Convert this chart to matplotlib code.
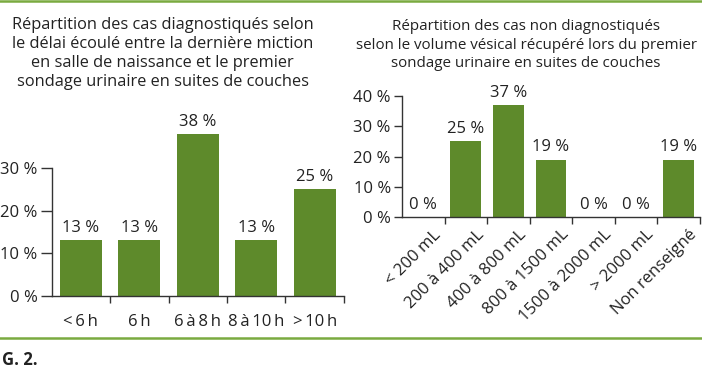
import matplotlib
matplotlib.use("Agg")
import matplotlib.pyplot as plt
import matplotlib.transforms as mtransforms
import numpy as np

plt.rcParams['font.family'] = ['Open Sans', 'DejaVu Sans']

# donnees
cat_gauche = ["<\u20096\u2009h", "6\u2009h", "6\u2009à\u20098\u2009h",
              "8\u2009à\u200910\u2009h", ">\u200910\u2009h"]
val_gauche = [13, 13, 38, 13, 25]
titre_gauche = ("Répartition des cas diagnostiqués selon\n"
                "le délai écoulé entre la dernière miction\n"
                "en salle de naissance et le premier\n"
                "sondage urinaire en suites de couches")

cat_droite = ["< 200 mL", "200 à 400 mL", "400 à 800 mL", "800 à 1500 mL",
              "1500 à 2000 mL", "> 2000 mL", "Non renseigné"]
val_droite = [0, 25, 37, 19, 0, 0, 19]
titre_droite = ("Répartition des cas non diagnostiqués\n"
                "selon le volume vésical récupéré lors du premier\n"
                "sondage urinaire en suites de couches")

vert = "#5e8a2b"
trait = "#7aaa40"
gris = "#333333"
txt = "#222222"
fs = 12

fig = plt.figure(figsize=(7.02, 3.70), dpi=100)

def panneau(ax, cats, vals, yticks, ylen):
    x = np.arange(len(cats))
    ax.bar(x, vals, width=0.72, color=vert)
    for xi, v in zip(x, vals):
        ax.annotate("%d %%" % v, (xi, v), xytext=(0, 3), textcoords="offset points",
                    ha="center", va="bottom", fontsize=fs, color=txt)
    ax.set_xlim(-0.5, len(cats) - 0.5)
    ax.set_ylim(0, 40)
    ax.set_yticks(yticks)
    ax.set_yticklabels(["%d %%" % t for t in yticks], fontsize=fs, color=txt)
    ax.spines['top'].set_visible(False)
    ax.spines['right'].set_visible(False)
    ax.spines['left'].set_bounds(0, yticks[-1])
    for s in ['left', 'bottom']:
        ax.spines[s].set_color(gris)
        ax.spines[s].set_linewidth(1.0)
    ax.tick_params(axis='y', length=ylen, width=1.0, color=gris, pad=2)
    # traits entre categories, libelles au centre
    ax.set_xticks(np.arange(len(cats)) + 0.5)
    ax.set_xticklabels([])
    ax.tick_params(axis='x', which='major', length=5, width=1.0, color=gris)
    ax.set_xticks(x, minor=True)
    ax.tick_params(axis='x', which='minor', length=0)
    return x

ax1 = fig.add_axes([0.0734, 0.2, 0.4166, 0.4616])
x1 = panneau(ax1, cat_gauche, val_gauche, [0, 10, 20, 30], 8)
ax1.set_xticklabels(cat_gauche, minor=True, fontsize=fs, color=txt)
ax1.tick_params(axis='x', which='minor', pad=13)

ax2 = fig.add_axes([0.5726, 0.4135, 0.4244, 0.327])
x2 = panneau(ax2, cat_droite, val_droite, [0, 10, 20, 30, 40], 6)
ax2.set_xticklabels(cat_droite, minor=True, fontsize=fs, color=txt,
                    rotation=45, ha="right", rotation_mode="anchor")
ax2.tick_params(axis='x', which='minor', pad=7)
decal = mtransforms.ScaledTranslation(10 / 100, 0, fig.dpi_scale_trans)
for lab in ax2.get_xticklabels(minor=True):
    lab.set_transform(lab.get_transform() + decal)

fig.text(0.232, 0.954, titre_gauche, ha="center", va="top", fontsize=11.8,
         color=txt, linespacing=1.24)
fig.text(526 / 702, 0.948, titre_droite, ha="center", va="top", fontsize=10.9,
         color=txt, linespacing=1.3)

# filets verts haut et bas
fig.add_artist(plt.Line2D([0, 1], [0.996, 0.996], color=trait, lw=1.8,
                          transform=fig.transFigure))
fig.add_artist(plt.Line2D([0, 1], [1 - 337.5 / 370, 1 - 337.5 / 370], color=trait,
                          lw=1.8, transform=fig.transFigure))
fig.text(0.003, 1 - 360 / 370, "G. 2.", ha="left", va="center", fontsize=12,
         fontweight="bold", color=txt)

fig.savefig("out.png", dpi=100)
